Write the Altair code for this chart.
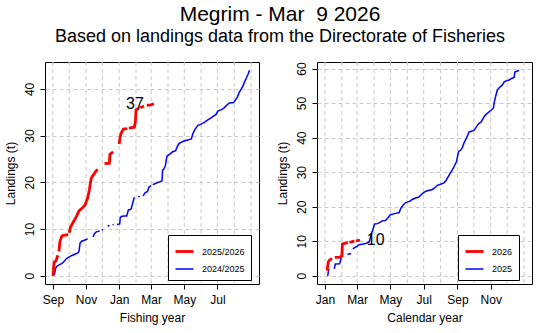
import altair as alt
import pandas as pd

title_text = "Megrim - Mar\u00a0\u00a09 2026"
subtitle_text = "Based on landings data from the Directorate of Fisheries"

# month starts (days from start of year) and labelled ticks
fy_month_days = [0, 30, 61, 91, 122, 153, 181, 212, 242, 273, 303, 334, 365]
fy_tick_days = [0, 61, 122, 181, 242, 303]
fy_tick_labels = ["Sep", "Nov", "Jan", "Mar", "May", "Jul"]
cy_month_days = [0, 31, 59, 90, 120, 151, 181, 212, 243, 273, 304, 334, 365]
cy_tick_days = [0, 59, 120, 181, 243, 304]
cy_tick_labels = ["Jan", "Mar", "May", "Jul", "Sep", "Nov"]

# Fishing year 2025/2026 (days from 1 Sep), None = gap in the line
fy_cur_day = [0, 1, 2, 5, 6, 9, None, 11, 13, 16, 18, 28, None, 30, 32, 37, 41, 44, 48, 55, 59,
              64, 67, 70, 72, 76, 78, 82, None, 95, 104, 105, 111, None, 122, 124, 126, 130, 137,
              None, 140, 150, 152, 153, 158, None, 161, 168, None, 173, 180, 186]
fy_cur_val = [0, 1.2, 2.9, 3.1, 3.3, 4.4, None, 5.2, 7.4, 8.4, 8.6, 8.8, None, 9.2, 10.3, 11.4,
              12.2, 12.9, 13.9, 14.6, 15.1, 16.7, 18.3, 20.6, 21.2, 21.8, 22.2, 22.8, None, 24.0,
              24.1, 26.0, 26.5, None, 28.2, 29.8, 30.6, 31.4, 31.5, None, 31.6, 31.8, 33.0, 35.5,
              35.8, None, 36.0, 36.3, None, 36.5, 36.6, 36.8]

# Fishing year 2024/2025
fy_prev_day = [0, 3, 5, 7, 12, 16, 20, 25, 34, 40, 46, 48, 50, 53, 58, 64, None, 74, 76, 78, 80,
               86, None, 90, 92, None, 101, 104, None, 110, 112, None, 118, 123, 124, 126, 131,
               136, 139, 142, 144, 148, 150, None, 157, 160, None, 166, 170, 174, 177, 181, None,
               184, 188, 192, 196, 201, 202, 204, 207, 210, 215, 220, 226, 229, 232, 240, 250,
               255, 258, 262, 267, 272, 278, 286, 290, 295, 300, 304, 310, 316, 320, 325, 333,
               336, 340, 343, 346, 350, 353, 357, 360, 362]
fy_prev_val = [0, 0.4, 1.6, 2.0, 2.4, 2.6, 3.0, 3.7, 4.3, 4.6, 4.9, 5.2, 7.0, 7.4, 7.6, 7.9, None,
               8.3, 8.9, 9.2, 9.4, 9.6, None, 9.8, 9.9, None, 10.6, 10.8, None, 10.9, 11.0, None,
               11.0, 11.1, 12.4, 12.7, 12.8, 12.8, 14.1, 14.2, 14.3, 16.0, 16.8, None, 16.9, 17.0,
               None, 17.1, 17.8, 18.0, 19.0, 19.3, None, 19.5, 19.7, 19.9, 20.1, 20.3, 22.6, 22.8,
               23.5, 25.6, 26.0, 26.5, 26.8, 27.6, 28.3, 28.8, 29.1, 29.3, 30.5, 31.4, 32.2, 32.4,
               32.8, 33.4, 33.7, 34.1, 34.5, 35.3, 35.5, 36.0, 36.5, 37.0, 37.1, 37.6, 38.3, 39.2,
               39.8, 40.6, 41.5, 42.5, 43.3, 44.0]

# Calendar year 2026 (days from 1 Jan)
cy_cur_day = [4, 6, 7, 9, 13, None, 18, 27, 31, 32, 36, 42, None, 45, 54, None, 57, 64]
cy_cur_val = [1.5, 3.9, 4.3, 4.6, 5.0, None, 5.3, 5.4, 5.7, 9.2, 9.4, 9.6, None, 9.7, 10.0, None,
              10.1, 10.3]

# Calendar year 2025
cy_prev_day = [5, 6, 7, None, 17, 19, 27, 29, 30, None, 41, 44, 48, None, 51, 54, 57, 63, 70, 76,
               81, 83, 85, 88, 91, 96, 100, 105, 111, 116, 120, 128, 136, 139, 142, 148, 156, 160,
               166, 172, 178, 185, 190, 197, 203, 206, 212, 218, 222, 225, 230, 234, 238, 241,
               243, 245, 249, 252, 255, 258, 262, 264, 270, 274, 280, 283, 286, 292, 296, 301,
               307, 309, 310, 313, 316, 320, 325, 329, 334, 338, 343, 347, 348, 352, 356]
cy_prev_val = [0, 1.0, 2.0, None, 2.0, 3.4, 3.5, 4.8, 5.8, None, 6.2, 6.3, 6.4, None, 7.8, 8.1, 8.4,
               9.0, 9.2, 9.4, 9.8, 10.9, 12.1, 13.5, 15.0, 15.1, 15.4, 15.9, 16.0, 16.9, 17.7,
               18.0, 18.3, 19.5, 20.2, 21.2, 21.6, 22.1, 22.5, 22.8, 23.7, 24.5, 24.7, 25.0, 25.7,
               26.2, 26.5, 26.9, 27.6, 28.4, 29.8, 30.8, 32.0, 33.0, 34.5, 36.0, 36.4, 37.2, 38.5,
               39.4, 40.8, 41.6, 41.9, 42.2, 43.7, 44.2, 44.5, 46.1, 46.8, 47.5, 48.3, 48.6, 49.9,
               52.0, 53.8, 54.5, 55.2, 56.2, 56.5, 56.7, 57.2, 57.4, 59.0, 59.2, 59.5]

FONT = "Liberation Sans"
GRID = "#c8c8c8"


def frame(days, vals, series):
    rows, seg = [], 0
    for d, v in zip(days, vals):
        if d is None:
            seg += 1
            continue
        rows.append({"day": d, "val": v, "series": series, "seg": f"{series}-{seg}"})
    return pd.DataFrame(rows)


def panel(cur, prev, names, month_days, tick_days, tick_labels, ydom, yticks, xtitle,
          legend_xy, lab_align, lab_dx, width, height):
    cur_df = frame(cur[0], cur[1], names[0])
    prev_df = frame(prev[0], prev[1], names[1])
    lines = pd.concat([prev_df, cur_df], ignore_index=True)
    xscale = alt.Scale(domain=[-14.6, 379.6], nice=False, zero=False)
    yscale = alt.Scale(domain=ydom, nice=False, zero=False)
    label_expr = ("[" + ",".join(f"'{t}'" for t in tick_labels) + "][indexof(["
                  + ",".join(str(d) for d in tick_days) + "], datum.value)]")
    xaxis = alt.Axis(values=tick_days, labelExpr=label_expr, title=xtitle, grid=False,
                     labelPadding=5, titlePadding=7, labelFlush=False)
    yaxis = alt.Axis(values=yticks, title="Landings (t)", grid=True, gridDash=[4, 3],
                     gridColor=GRID, labelAngle=270, labelAlign="center",
                     labelBaseline="bottom", labelPadding=4, titlePadding=6)
    grid = alt.Chart(pd.DataFrame({"day": month_days})).mark_rule(
        color=GRID, strokeDash=[4, 3], strokeWidth=1
    ).encode(x=alt.X("day:Q", scale=xscale, axis=xaxis))
    leg = alt.Legend(orient="none", legendX=legend_xy[0], legendY=legend_xy[1], title=None)
    line = alt.Chart(lines).mark_line().encode(
        x=alt.X("day:Q", scale=xscale, axis=xaxis),
        y=alt.Y("val:Q", scale=yscale, axis=yaxis),
        color=alt.Color("series:N", scale=alt.Scale(domain=names, range=["red", "blue"]),
                        legend=leg),
        strokeWidth=alt.StrokeWidth("series:N", scale=alt.Scale(domain=names, range=[2.8, 1.5]),
                                    legend=leg),
        detail="seg:N",
    )
    last = cur_df.iloc[[-1]].copy()
    last["lab"] = last["val"].round().astype(int).astype(str)
    text = alt.Chart(last).mark_text(
        align=lab_align, baseline="middle", dx=lab_dx, fontSize=16, font=FONT, color="black"
    ).encode(
        x=alt.X("day:Q", scale=xscale, axis=xaxis),
        y=alt.Y("val:Q", scale=yscale, axis=yaxis),
        text="lab:N",
    )
    return alt.layer(grid, line, text).properties(width=width, height=height)


left = panel((fy_cur_day, fy_cur_val), (fy_prev_day, fy_prev_val), ["2025/2026", "2024/2025"],
             fy_month_days, fy_tick_days, fy_tick_labels, [-1.76, 45.76], [0, 10, 20, 30, 40],
             "Fishing year", (123, 173), "right", -10, 214, 222)
right = panel((cy_cur_day, cy_cur_val), (cy_prev_day, cy_prev_val), ["2026", "2025"],
              cy_month_days, cy_tick_days, cy_tick_labels, [-2.38, 61.9],
              [0, 10, 20, 30, 40, 50, 60], "Calendar year", (141, 173), "left", 7, 215, 222)

chart = alt.hconcat(left, right, spacing=15).resolve_scale(
    color="independent", strokeWidth="independent"
).resolve_legend(color="independent", strokeWidth="independent").properties(
    title=alt.TitleParams(text=title_text, subtitle=subtitle_text, fontSize=21,
                          subtitleFontSize=18, font=FONT, subtitleFont=FONT,
                          fontWeight="normal", anchor="middle", color="black",
                          subtitleColor="black", subtitlePadding=3, offset=14, dx=12, dy=-1),
    padding={"left": 3, "top": 4, "right": 5, "bottom": 5},
).configure_view(stroke="black", strokeWidth=1).configure_axis(
    domain=False, tickColor="black", tickSize=5, labelFont=FONT, labelFontSize=12,
    labelColor="black", titleFont=FONT, titleFontSize=12, titleFontWeight="normal",
    titleColor="black",
).configure_legend(
    strokeColor="black", fillColor="white", padding=6, labelFont=FONT, labelFontSize=9,
    labelColor="black", symbolType="stroke", symbolSize=324, rowPadding=1, labelOffset=7,
    cornerRadius=0,
)

chart.save("out.html", embed_options={"renderer": "svg", "actions": False})
